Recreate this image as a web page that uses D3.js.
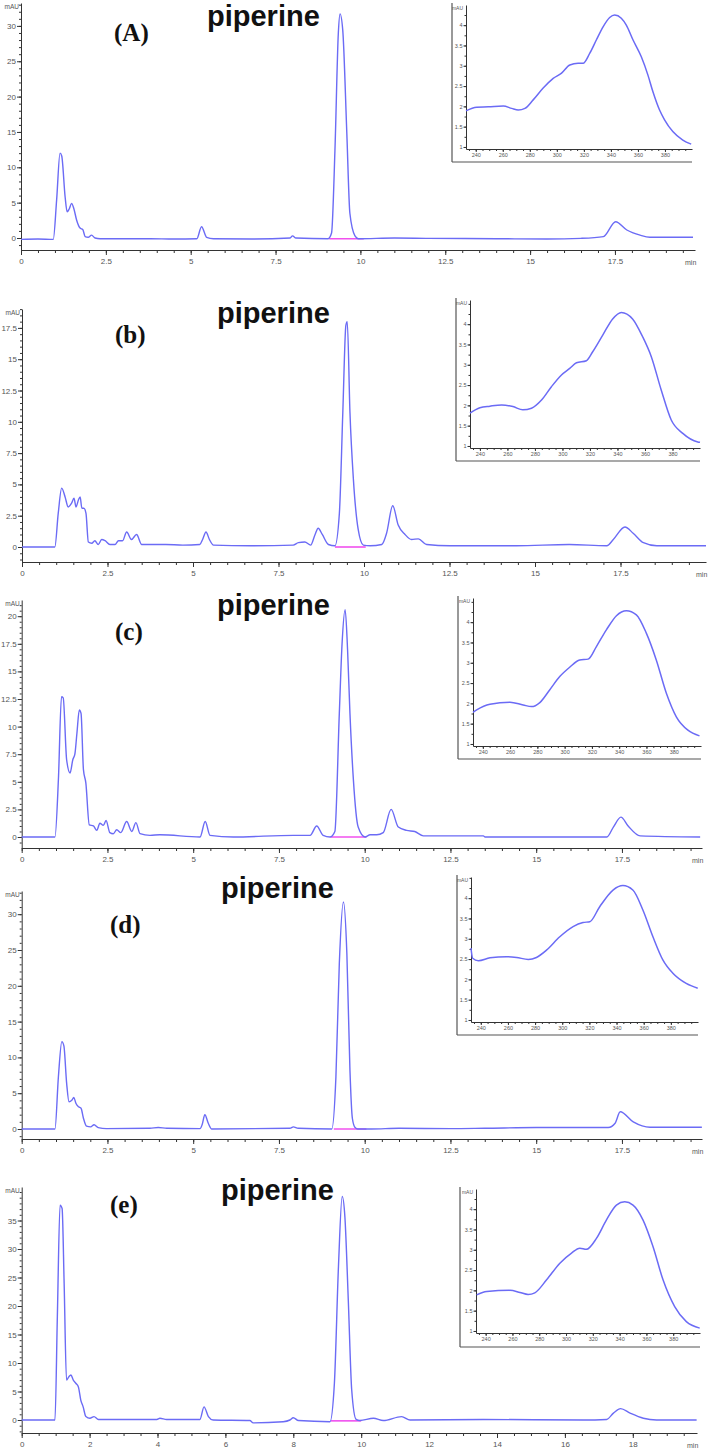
<!DOCTYPE html>
<html lang="en">
<head>
<meta charset="UTF-8">
<title>HPLC chromatograms - piperine</title>
<script src="https://d3js.org/d3.v7.min.js"></script>
<style>
  html, body { margin: 0; padding: 0; background: #fff; }
  svg { display: block; }
  .tick text { font-family: "Liberation Sans", Arial, sans-serif; fill: #555; }
  .tick line, .domain { stroke: #333; }
  .frame { stroke: #555; stroke-width: 1.2px; }
  .trace { fill: none; stroke: #6b6bf5; stroke-width: 1.4px; }
  .spec { fill: none; stroke: #6b6bf5; stroke-width: 1.5px; }
  .base { stroke: #f050ee; stroke-width: 1.6px; }
  .tag { font-family: "Liberation Serif", "Times New Roman", serif; font-weight: bold; fill: #111; }
  .compound { font-family: "Liberation Sans", Arial, sans-serif; font-weight: bold; fill: #111; }
  .unit { font-family: "Liberation Sans", Arial, sans-serif; fill: #555; }
</style>
</head>
<body>
<svg width="709" height="1449"></svg>
<script>
// ---- data: [time (min), signal (mAU)] ----
const panelTags = ["(A)", "(b)", "(c)", "(d)", "(e)"];
const compound = "piperine";

const traceA = [[0,-0.2],[0.5,-0.15],[0.95,-0.2],[1.05,5.4],[1.15,12.0],[1.2,11.6],[1.3,5.8],[1.36,3.7],[1.42,4.1],[1.49,4.9],[1.56,4.1],[1.64,2.5],[1.74,1.4],[1.82,1.2],[1.89,0.2],[1.98,0.1],[2.08,0.4],[2.18,0.0],[2.33,-0.1],[3.8,-0.1],[4.5,-0.15],[5.18,-0.1],[5.32,1.6],[5.47,0.1],[5.67,-0.1],[6.8,-0.15],[7.93,0],[8.0,0.3],[8.1,0],[9.05,-0.1],[9.15,0.7],[9.25,12.4],[9.35,29],[9.4,31.7],[9.48,29.4],[9.6,14.8],[9.69,3.5],[9.84,0.3],[9.94,-0.1],[11,0.0],[12,-0.05],[14,-0.1],[15.5,-0.15],[16.5,-0.05],[17.16,0.2],[17.52,2.3],[17.85,1.13],[18.24,0.4],[18.53,0.1],[19.8,0.1]];

const traceB = [[0,0],[0.96,0],[1.06,2.7],[1.16,4.7],[1.26,4.0],[1.35,3.2],[1.45,3.5],[1.52,3.9],[1.58,3.2],[1.65,3.75],[1.7,4.0],[1.75,3.1],[1.81,3.1],[1.87,2.7],[1.94,0.4],[2.04,0.3],[2.13,0.5],[2.23,0.2],[2.33,0.6],[2.43,0.5],[2.57,0.2],[2.72,0.2],[2.82,0.5],[2.94,0.5],[3.06,1.2],[3.2,0.6],[3.35,1.0],[3.5,0.2],[3.74,0.2],[4.2,0.2],[4.7,0.15],[5.2,0.2],[5.28,0.6],[5.38,1.2],[5.48,0.6],[5.6,0.15],[6.67,0.1],[7.93,0.15],[8.08,0.35],[8.27,0.4],[8.44,0.15],[8.57,1.0],[8.66,1.5],[8.78,1.0],[8.96,0.2],[9.15,0.1],[9.28,2.7],[9.38,10.7],[9.47,17.7],[9.51,18],[9.59,10.7],[9.69,5.4],[9.83,1.4],[9.98,0.15],[10.18,0.1],[10.52,0.2],[10.66,1.1],[10.84,3.3],[11.0,1.75],[11.2,1.0],[11.39,0.6],[11.59,0.65],[11.83,0.2],[12.51,0.1],[14.46,0.1],[16.0,0.2],[17.1,0.1],[17.29,0.6],[17.63,1.6],[17.87,1.1],[18.17,0.35],[18.56,0.1],[20,0.1]];

const traceC = [[0,0],[0.97,0],[1.07,5.2],[1.16,12.7],[1.21,12.6],[1.31,7.0],[1.41,5.8],[1.49,7.0],[1.55,7.5],[1.61,9.4],[1.68,11.5],[1.73,11.2],[1.8,6.1],[1.87,4.9],[1.97,1.1],[2.09,1.0],[2.19,0.6],[2.28,1.25],[2.38,1.05],[2.46,1.5],[2.57,0.4],[2.67,0.3],[2.77,0.65],[2.89,0.4],[3.06,1.4],[3.21,0.5],[3.33,1.3],[3.45,0.3],[3.74,0.15],[4.03,0.2],[5.2,0],[5.35,1.4],[5.49,0.15],[6.17,0],[7.92,0.15],[8.41,0.15],[8.6,1.0],[8.79,0.15],[8.99,0],[9.13,0.5],[9.26,11.2],[9.34,17.5],[9.43,20.6],[9.5,17.0],[9.57,11.2],[9.67,5.2],[9.81,0.9],[10.01,0],[10.16,0.2],[10.35,0.2],[10.54,0.4],[10.77,2.5],[10.98,0.9],[11.22,0.6],[11.46,0.5],[11.71,0.1],[13.46,0.1],[13.51,0],[17.06,0],[17.25,0.9],[17.47,1.8],[17.68,1.0],[18.03,0.1],[19.78,0]];

const traceD = [[0,0],[0.97,0],[1.07,7.3],[1.17,12.2],[1.23,11.6],[1.31,6.4],[1.38,3.8],[1.46,4.0],[1.52,4.4],[1.58,3.6],[1.66,3.1],[1.73,2.9],[1.8,1.5],[1.89,0.4],[2.01,0.3],[2.11,0.6],[2.23,0.2],[2.47,0.05],[3.74,0.1],[3.98,0.2],[4.23,0.1],[5.2,0.05],[5.26,0.6],[5.34,2.0],[5.44,0.8],[5.54,0],[7.82,0.1],[7.92,0.3],[8.06,0.1],[9.04,0],[9.16,7.2],[9.26,23.1],[9.38,31.7],[9.48,24.5],[9.57,8.2],[9.64,1.5],[9.72,0.2],[9.8,0],[10.2,0],[11,0.1],[12.5,0.05],[13.5,0.1],[15,0.2],[16,0.2],[17.1,0.2],[17.3,0.8],[17.45,2.4],[17.83,1.0],[18.32,0.25],[19.83,0.25]];

const traceE = [[0,0],[0.98,0],[1.05,18.1],[1.13,37.7],[1.19,37.1],[1.25,24],[1.32,7.0],[1.39,7.6],[1.45,7.9],[1.52,7.0],[1.6,6.4],[1.67,5.8],[1.74,3.5],[1.81,2.3],[1.89,0.6],[2.01,0.3],[2.13,0.6],[2.26,0.1],[3.98,0.1],[4.07,0.3],[4.27,0.1],[5.25,0.1],[5.37,2.3],[5.5,0.6],[5.64,0],[6.72,-0.1],[6.82,-0.5],[7.7,-0.3],[7.9,0],[8.0,0.4],[8.15,-0.1],[9.08,-0.3],[9.21,6.4],[9.33,26.9],[9.44,39.2],[9.52,35.6],[9.62,21],[9.72,5.3],[9.85,0.1],[9.96,-0.1],[10.36,0.3],[10.65,-0.1],[11.19,0.6],[11.44,0.0],[13.6,0.1],[16.54,0],[17.23,0.1],[17.43,1.2],[17.64,2.0],[17.92,1.2],[18.31,0.3],[18.7,0],[19.88,0]];

// integration baseline under the piperine peak: [start, end] in [min, mAU]
const baselines = [
  [[9.08, -0.1], [10.1, -0.1]],
  [[9.15, 0], [10.05, 0]],
  [[9.0, 0], [10.05, 0]],
  [[9.1, 0], [10.05, 0]],
  [[9.1, -0.15], [10.0, -0.15]]
];

// axis ticks
const yTicksA = [0, 5, 10, 15, 20, 25, 30];
const yTicksB = [0, 2.5, 5, 7.5, 10, 12.5, 15, 17.5];
const yTicksC = [0, 2.5, 5, 7.5, 10, 12.5, 15, 17.5, 20];
const yTicksD = [0, 5, 10, 15, 20, 25, 30];
const yTicksE = [0, 5, 10, 15, 20, 25, 30, 35];
const yMinorStep = [1, 0.5, 0.5, 1, 1];
const xTicksQuarter = [0, 2.5, 5, 7.5, 10, 12.5, 15, 17.5];
const xTicksEven = [0, 2, 4, 6, 8, 10, 12, 14, 16, 18];

// UV spectra of the piperine peak (insets): [wavelength (nm), absorbance]
const specA = [[232.8,1.89],[240.7,1.98],[249.3,1.99],[260.4,2.01],[266.6,1.95],[271.5,1.91],[276.4,1.95],[282.5,2.16],[289.9,2.45],[297.3,2.69],[303.5,2.82],[309.6,3.02],[315.7,3.06],[319.4,3.06],[324.4,3.31],[329.3,3.64],[334.2,3.96],[339.1,4.19],[342.8,4.25],[347.7,4.17],[351.4,4.0],[356.3,3.64],[362.5,3.22],[367.4,2.77],[371.1,2.36],[376,1.91],[379.7,1.67],[385.8,1.38],[393.2,1.17],[399.4,1.07]];
const specB = [[232.8,1.81],[240,1.94],[247.3,1.98],[255.8,2.01],[264,1.97],[271.2,1.89],[277.5,1.93],[284.8,2.13],[292,2.46],[299.3,2.75],[305.3,2.91],[310.2,3.05],[317.4,3.1],[322,3.32],[329.3,3.73],[336.5,4.13],[342.8,4.29],[351,4.13],[358.3,3.69],[364.6,3.2],[371.8,2.38],[379.1,1.64],[387.5,1.31],[398.4,1.1],[400,1.09]];
const specC = [[232.8,1.78],[235.5,1.84],[245.2,1.98],[259.9,2.03],[269.6,1.96],[275.7,1.92],[281.8,2.02],[289,2.33],[296.4,2.66],[303.7,2.89],[311,3.07],[317.2,3.09],[323.3,3.4],[330.6,3.81],[338,4.16],[345.3,4.28],[352.6,4.18],[359.9,3.73],[367.2,3.07],[374.6,2.25],[381.9,1.67],[390.4,1.34],[398.9,1.2]];
const specD = [[232.8,2.77],[234,2.52],[238.2,2.46],[246.8,2.53],[259,2.56],[266.4,2.54],[275,2.49],[281,2.54],[288.4,2.72],[298.2,3.05],[308,3.3],[315.3,3.4],[320.3,3.42],[327.6,3.79],[337.4,4.2],[344.7,4.31],[352,4.2],[359.4,3.71],[366.8,3.05],[374.1,2.48],[381.5,2.15],[391.3,1.9],[399.8,1.78]];
const specE = [[233.3,1.89],[240.8,1.97],[258.1,2.0],[265.6,1.95],[271.7,1.9],[276.7,1.94],[285.5,2.26],[295.4,2.67],[304.1,2.92],[310.3,3.04],[315.2,3.01],[322.7,3.28],[330.1,3.73],[337.6,4.1],[343.8,4.18],[350,4.1],[357.5,3.73],[364.9,3.08],[372.4,2.26],[381.1,1.6],[389.8,1.23],[399.8,1.07]];
const insetNmTicks = [240, 260, 280, 300, 320, 340, 360, 380];
const insetAbsTicks = [1, 1.5, 2, 2.5, 3, 3.5, 4];

const traces = [traceA, traceB, traceC, traceD, traceE];
const yTicks = [yTicksA, yTicksB, yTicksC, yTicksD, yTicksE];
const xTicks = [xTicksQuarter, xTicksQuarter, xTicksQuarter, xTicksQuarter, xTicksEven];
const spectra = [specA, specB, specC, specD, specE];

// ---- page layout (pixels) ----
const layout = [
  {x0: 21, x1: 695, pxMin: 33.94, axisY: 250, topY: 3,    zeroY: 238,  pxU: 7.07,
   tag: [114, 41, 25], name: [207, 26],
   inset: {ol: 452, il: 466, top: 5,    ib: 149,  ob: 162,  r: 692}},
  {x0: 22, x1: 706, pxMin: 34.2,  axisY: 562, topY: 309,  zeroY: 547,  pxU: 12.52,
   tag: [115, 343, 25], name: [217, 323],
   inset: {ol: 456, il: 470, top: 300,  ib: 448,  ob: 461,  r: 700}},
  {x0: 21.7, x1: 702, pxMin: 34.3, axisY: 848, topY: 600, zeroY: 837,  pxU: 11.04,
   tag: [115, 640, 25], name: [217, 615],
   inset: {ol: 458, il: 473, top: 598,  ib: 746,  ob: 759,  r: 701}},
  {x0: 21.7, x1: 702, pxMin: 34.3, axisY: 1139, topY: 891, zeroY: 1129, pxU: 7.16,
   tag: [110, 933, 25], name: [221, 898],
   inset: {ol: 457, il: 471, top: 877,  ib: 1022, ob: 1035, r: 698}},
  {x0: 21.7, x1: 697, pxMin: 33.95, axisY: 1433, topY: 1187, zeroY: 1420, pxU: 5.7,
   tag: [110, 1213, 25], name: [221, 1200],
   inset: {ol: 460, il: 476, top: 1189, ib: 1333, ob: 1347, r: 700}}
];

const svg = d3.select("svg");
const fmt = d => String(d);

traces.forEach((trace, i) => {
  const L = layout[i];
  const g = svg.append("g");

  const x = d3.scaleLinear()
    .domain([0, (L.x1 - L.x0) / L.pxMin])
    .range([L.x0, L.x1]);
  const y = d3.scaleLinear()
    .domain([-(L.axisY - L.zeroY) / L.pxU, (L.zeroY - L.topY) / L.pxU])
    .range([L.axisY, L.topY]);

  // y axis: minor then major
  const [yLo, yHi] = y.domain();
  const yMinor = d3.range(Math.ceil(yLo / yMinorStep[i]) * yMinorStep[i], yHi, yMinorStep[i]);
  g.append("g")
    .attr("transform", `translate(${L.x0},0)`)
    .call(d3.axisLeft(y).tickValues(yMinor).tickSize(2).tickFormat(""))
    .call(s => s.select(".domain").remove());
  g.append("g")
    .attr("transform", `translate(${L.x0},0)`)
    .call(d3.axisLeft(y).tickValues(yTicks[i]).tickSize(4).tickSizeOuter(0).tickPadding(1).tickFormat(fmt))
    .call(s => s.selectAll("text").attr("font-size", 8));

  // x axis: minor then major
  const [xLo, xHi] = x.domain();
  g.append("g")
    .attr("transform", `translate(0,${L.axisY})`)
    .call(d3.axisBottom(x).tickValues(d3.range(0, xHi, 0.5)).tickSize(3).tickFormat(""))
    .call(s => s.select(".domain").remove());
  g.append("g")
    .attr("transform", `translate(0,${L.axisY})`)
    .call(d3.axisBottom(x).tickValues(xTicks[i]).tickSize(5).tickSizeOuter(0).tickPadding(3).tickFormat(fmt))
    .call(s => s.selectAll("text").attr("font-size", 8));

  g.append("text").attr("class", "unit")
    .attr("x", L.x1 - 10).attr("y", L.axisY + 15)
    .attr("font-size", 7).text("min");
  g.append("text").attr("class", "unit")
    .attr("x", L.x0 - 2).attr("y", L.topY + 6)
    .attr("text-anchor", "end").attr("font-size", 6.5).text("mAU");

  // integration baseline
  const b = baselines[i];
  g.append("line").attr("class", "base")
    .attr("x1", x(b[0][0])).attr("y1", y(b[0][1]))
    .attr("x2", x(b[1][0])).attr("y2", y(b[1][1]));

  // chromatogram
  const line = d3.line().x(d => x(d[0])).y(d => y(d[1])).curve(d3.curveMonotoneX);
  g.append("path").attr("class", "trace").attr("d", line(trace));

  // labels
  g.append("text").attr("class", "tag")
    .attr("x", L.tag[0]).attr("y", L.tag[1]).attr("font-size", L.tag[2])
    .text(panelTags[i]);
  g.append("text").attr("class", "compound")
    .attr("x", L.name[0]).attr("y", L.name[1]).attr("font-size", 29)
    .text(compound);

  // inset: UV spectrum
  const I = L.inset;
  const ix = d3.scaleLinear().domain([232.8, 400]).range([I.il, I.r]);
  const iy = d3.scaleLinear().domain([0.95, 0.95 + (I.ib - I.top) / 40.6]).range([I.ib, I.top]);
  const ig = g.append("g");
  ig.append("line").attr("class", "frame")
    .attr("x1", I.ol).attr("y1", I.top - 2).attr("x2", I.ol).attr("y2", I.ob);
  ig.append("line").attr("class", "frame")
    .attr("x1", I.ol).attr("y1", I.ob).attr("x2", I.r).attr("y2", I.ob);

  ig.append("g")
    .attr("transform", `translate(${I.il},0)`)
    .call(d3.axisLeft(iy).tickValues(d3.range(1, iy.domain()[1], 0.25)).tickSize(1.5).tickFormat(""))
    .call(s => s.select(".domain").remove());
  ig.append("g")
    .attr("transform", `translate(${I.il},0)`)
    .call(d3.axisLeft(iy).tickValues(insetAbsTicks).tickSize(2.5).tickSizeOuter(0).tickPadding(1).tickFormat(fmt))
    .call(s => s.selectAll("text").attr("font-size", 5.5));
  ig.append("g")
    .attr("transform", `translate(0,${I.ib})`)
    .call(d3.axisBottom(ix).tickValues(d3.range(235, 400, 5)).tickSize(2).tickFormat(""))
    .call(s => s.select(".domain").remove());
  ig.append("g")
    .attr("transform", `translate(0,${I.ib})`)
    .call(d3.axisBottom(ix).tickValues(insetNmTicks).tickSize(3).tickSizeOuter(0).tickPadding(1).tickFormat(fmt))
    .call(s => s.selectAll("text").attr("font-size", 5.5));
  ig.append("text").attr("class", "unit")
    .attr("x", I.il - 3).attr("y", I.top + 5)
    .attr("text-anchor", "end").attr("font-size", 5).text("mAU");

  const sline = d3.line().x(d => ix(d[0])).y(d => iy(d[1])).curve(d3.curveMonotoneX);
  ig.append("path").attr("class", "spec").attr("d", sline(spectra[i]));
});
</script>
</body>
</html>
